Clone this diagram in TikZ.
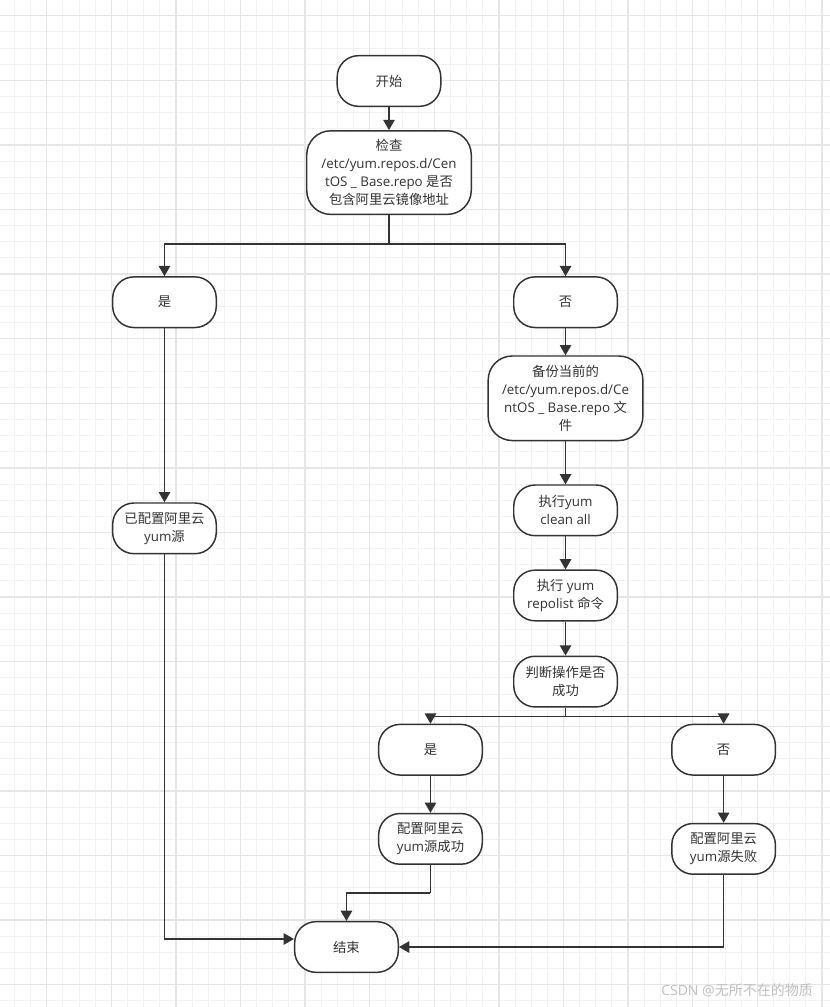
\documentclass[tikz,border=0pt]{standalone}
\usepackage{fontspec}
\setmainfont{Open Sans}
\newfontfamily\cjk{Noto Sans CJK SC}
\newcommand{\zh}[1]{{\cjk #1}}
\usetikzlibrary{arrows}
\usetikzlibrary{positioning}
\definecolor{ink}{HTML}{333333}
\definecolor{gridminor}{HTML}{F2F2F2}
\definecolor{gridmajor}{HTML}{E6E6E6}
\tikzstyle{term}=[rectangle, rounded corners=16pt, draw=ink, line width=1.1pt, fill=white, text=ink, align=center, minimum width=77.7pt, minimum height=38pt, inner sep=2pt, font=\fontsize{10pt}{13.5pt}\selectfont]
\tikzstyle{wide}=[term, rounded corners=18pt, minimum width=123.4pt, minimum height=62.7pt]
\tikzstyle{line}=[draw=ink, line width=1.1pt]
\tikzstyle{flow}=[line, ->]

\begin{document}
\begin{tikzpicture}[x=0.75pt, y=-0.75pt, >=triangle 60]
    \useasboundingbox (0,0) rectangle (830,1007);
    % grid
    \fill[white] (0,0) rectangle (830,1007);
    \foreach \k in {0,...,50} \draw[gridminor, line width=0.75pt] ({14.4+16.15*\k},0) -- ({14.4+16.15*\k},1007);
    \foreach \k in {0,...,61} \draw[gridminor, line width=0.75pt] (0,{15.7+16.15*\k}) -- (830,{15.7+16.15*\k});
    \foreach \k in {0,...,12} \draw[gridmajor, line width=1pt] ({46.7+64.6*\k},0) -- ({46.7+64.6*\k},1007);
    \foreach \k in {0,...,15} \draw[gridmajor, line width=1pt] (0,{15.7+64.6*\k}) -- (830,{15.7+64.6*\k});

    % nodes
    \node[term] (start) at (389,81) {\zh{开始}};
    \node[wide, below=17.25pt of start] (check) {\zh{检查}\\/etc/yum.repos.d/Cen\\tOS \_ Base.repo \zh{是否}\\\zh{包含阿里云镜像地址}};
    \node[term, below left=45.75pt and 66.75pt of check] (yes) {\zh{是}};
    \node[term, below right=45.75pt and 30.75pt of check] (no) {\zh{否}};
    \node[wide, minimum width=116pt, minimum height=63.4pt, below=20.25pt of no] (backup) {\zh{备份当前的}\\/etc/yum.repos.d/Ce\\ntOS \_ Base.repo \zh{文}\\\zh{件}};
    \node[term, below=32.25pt of backup] (clean) {\zh{执行}yum\\clean all};
    \node[term, below=24.75pt of clean] (repolist) {\zh{执行} yum\\repolist \zh{命令}};
    \node[term, below=25.5pt of repolist] (judge) {\zh{判断操作是否}\\\zh{成功}};
    \node[term, below left=12pt and 22.5pt of judge] (ok) {\zh{是}};
    \node[term, below right=12pt and 39.75pt of judge] (fail) {\zh{否}};
    \node[term, below=27.75pt of ok] (okdone) {\zh{配置阿里云}\\yum\zh{源成功}};
    \node[term, below=35.25pt of fail] (faildone) {\zh{配置阿里云}\\yum\zh{源失败}};
    \node[term, below=130.5pt of yes] (done) {\zh{已配置阿里云}\\yum\zh{源}};
    \node[term, below=42pt of okdone, xshift=-63pt] (end) {\zh{结束}};

    \node[text=gray!50, font=\fontsize{10.5pt}{12pt}\selectfont] (mark) at (737,990) {CSDN @\zh{无所不在的物质}};

    % connectors
    \coordinate[below=21.75pt of check] (fork);
    \coordinate[below=6.75pt of judge] (fork2);
    \coordinate[below=21pt of okdone] (merge);

    \draw[flow] (start) -- (check);
    \draw[line] (check) -- (fork);
    \draw[flow] (fork) -| (yes);
    \draw[flow] (fork) -| (no);
    \draw[flow] (yes) -- (done);
    \draw[flow] (no) -- (backup);
    \draw[flow] (backup) -- (clean);
    \draw[flow] (clean) -- (repolist);
    \draw[flow] (repolist) -- (judge);
    \draw[line] (judge) -- (fork2);
    \draw[flow] (fork2) -| (ok);
    \draw[flow] (fork2) -| (fail);
    \draw[flow] (ok) -- (okdone);
    \draw[flow] (fail) -- (faildone);
    \draw[flow] (done) |- ([yshift=6pt]end.west);
    \draw[line] (okdone) -- (merge);
    \draw[flow] (merge) -| (end);
    \draw[flow] (faildone) |- (end);
\end{tikzpicture}
\end{document}
